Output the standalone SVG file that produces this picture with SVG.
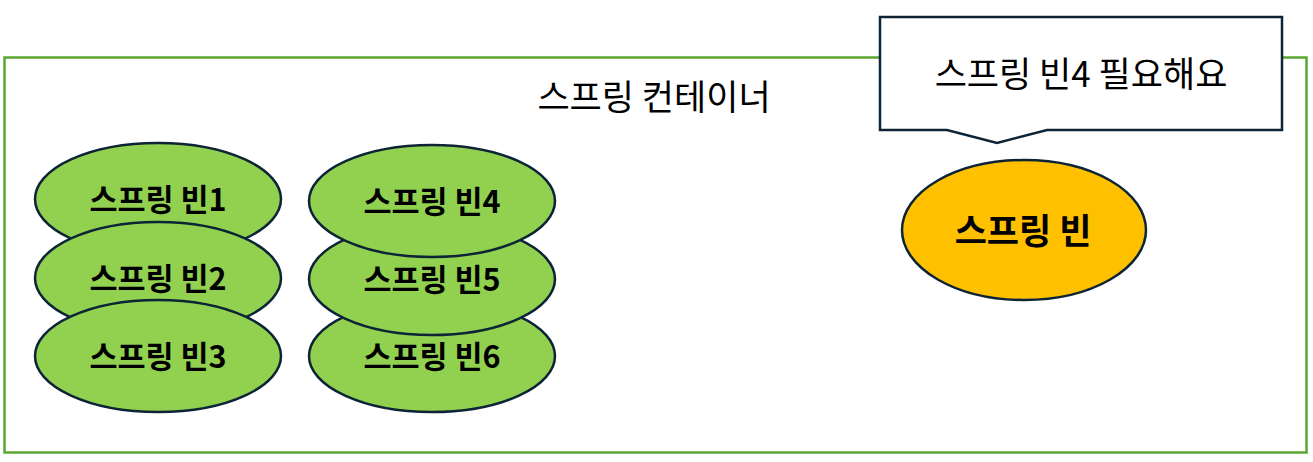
<svg xmlns="http://www.w3.org/2000/svg" width="1313" height="462" viewBox="0 0 1313 462">
<style>
.bean{fill:#92d050;stroke:#0d2436;stroke-width:2.5}
.main{fill:#ffc000;stroke:#0d2436;stroke-width:2.5}
.lbl{font-family:"Noto Sans CJK KR","Noto Sans",sans-serif;font-weight:bold;font-size:30.5px;fill:#000;text-anchor:middle;dominant-baseline:central}
.big{font-family:"Noto Sans CJK KR","Noto Sans",sans-serif;font-size:35px;fill:#000;text-anchor:middle;dominant-baseline:central}
</style>
<rect width="1313" height="462" fill="#fff"/>
<g id="container">
<rect x="4.5" y="57.5" width="1302" height="395" fill="none" stroke="#5aa832" stroke-width="2.5"/>
<text class="big" x="654" y="94">스프링 컨테이너</text>
</g>
<g id="bean1"><ellipse class="bean" cx="158" cy="199" rx="123" ry="56"/><text class="lbl" x="158" y="198">스프링 빈1</text></g>
<g id="bean2"><ellipse class="bean" cx="158" cy="278" rx="123" ry="56"/><text class="lbl" x="158" y="277">스프링 빈2</text></g>
<g id="bean3"><ellipse class="bean" cx="158" cy="356" rx="123" ry="56"/><text class="lbl" x="158" y="355">스프링 빈3</text></g>
<g id="bean6"><ellipse class="bean" cx="432" cy="356" rx="123" ry="56"/><text class="lbl" x="432" y="355">스프링 빈6</text></g>
<g id="bean5"><ellipse class="bean" cx="432" cy="279" rx="123" ry="56"/><text class="lbl" x="432" y="278">스프링 빈5</text></g>
<g id="bean4"><ellipse class="bean" cx="432" cy="201" rx="123" ry="56"/><text class="lbl" x="432" y="200">스프링 빈4</text></g>
<g id="bean"><ellipse class="main" cx="1024" cy="230" rx="122" ry="70"/><text class="lbl" style="font-size:35px" x="1023" y="228">스프링 빈</text></g>
<g id="callout">
<path d="M880,17 H1282 V130 H1047 L997,143 L947,130 H880 Z" fill="#fff" stroke="#0d2436" stroke-width="2.5"/>
<text class="big" x="1081" y="71">스프링 빈4 필요해요</text>
</g>
<g id="connectors"></g>
</svg>
